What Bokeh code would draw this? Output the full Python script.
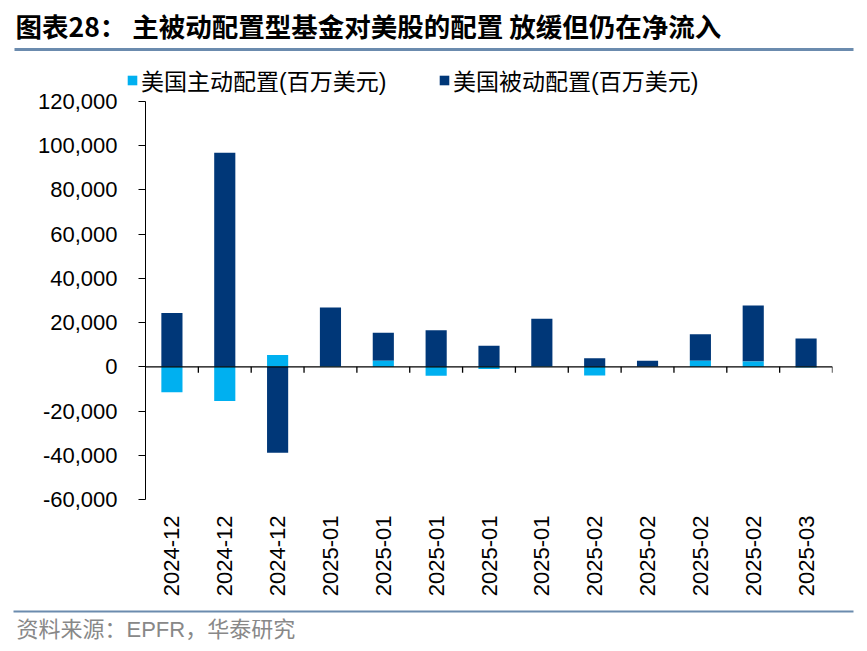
import numpy as np
from bokeh.plotting import figure
from bokeh.layouts import column
from bokeh.models import (Range1d, FixedTicker, NumeralTickFormatter, Span, Legend,
                          LegendItem, ColumnDataSource)
from bokeh.core.properties import value
from bokeh.embed import file_html
from bokeh.resources import INLINE

# ---- data ----
categories = ["2024-12", "2024-12", "2024-12", "2025-01", "2025-01", "2025-01", "2025-01",
              "2025-01", "2025-02", "2025-02", "2025-02", "2025-02", "2025-03"]
active = [-11500, -15500, 5400, 300, 2800, -4000, -1000, 300, -3900, 200, 2700, 2400, -300]
passive = [24400, 96800, -38900, 26500, 12600, 16600, 9500, 21500, 3900, 2600, 12000, 25300, 12800]
y_ticks = [-60000, -40000, -20000, 0, 20000, 40000, 60000, 80000, 100000, 120000]

title_text = "图表28： 主被动配置型基金对美股的配置 放缓但仍在净流入"
legend_active = "美国主动配置(百万美元)"
legend_passive = "美国被动配置(百万美元)"
source_text = "资料来源：EPFR，华泰研究"

C_ACTIVE = "#00B0F0"
C_PASSIVE = "#003778"
C_RULE = "#6B8BAE"
FONT = "Liberation Sans, Noto Sans CJK SC"
CJK = "Noto Sans CJK SC"

W = 867
HEAD_H, OVERLAP, MAIN_H, FOOT_H = 96, 8, 512, 50


def blank(height, **kw):
    f = figure(width=W, height=height, output_backend="svg", toolbar_location=None,
               x_range=Range1d(0, W), y_range=Range1d(height, 0),
               min_border=0, x_axis_location=None, y_axis_location=None,
               frame_align=False, **kw)
    f.outline_line_color = None
    f.grid.grid_line_color = None
    return f


# ---- header: title, rule, legend ----
head = blank(HEAD_H, margin=(0, 0, -OVERLAP, 0))
head.text(x=[15], y=[25], text=[title_text], text_font=value(CJK),
          text_font_size=value("26.5px"), text_font_style="bold",
          text_color="black", text_baseline="middle")
head.segment(x0=[14], x1=[853], y0=[49], y1=[49], line_color=C_RULE, line_width=3)
# legend swatches (kept outside the visible range; only their legend glyphs show)
ra = head.quad(left=[-50], right=[-40], top=[-50], bottom=[-40],
               fill_color=C_ACTIVE, line_color=None)
rp = head.quad(left=[-50], right=[-40], top=[-50], bottom=[-40],
               fill_color=C_PASSIVE, line_color=None)
for r, lab, x0 in [(ra, legend_active, 126), (rp, legend_passive, 438)]:
    lg = Legend(items=[LegendItem(label=lab, renderers=[r])], location=(x0, -1),
                orientation="horizontal", glyph_width=12, glyph_height=12,
                label_standoff=3, padding=0, margin=0, spacing=0,
                border_line_color=None, background_fill_alpha=0,
                label_text_font=FONT, label_text_font_size="23px",
                label_text_color="black")
    head.add_layout(lg)

# ---- main chart ----
n = len(categories)
xs = np.arange(n) + 0.5
a = np.array(active, dtype=float)
pv = np.array(passive, dtype=float)
p_bottom = np.where(np.sign(pv) == np.sign(a), a, 0.0)
p_top = p_bottom + pv
src = ColumnDataSource(dict(x=xs, a_top=a, a_bot=np.zeros(n), p_top=p_top, p_bot=p_bottom))

p = figure(width=W, height=MAIN_H, output_backend="svg", toolbar_location=None,
           x_range=Range1d(0, n), y_range=Range1d(-60000, 120000),
           min_border_left=145, min_border_right=35, min_border_top=13, min_border_bottom=101,
           frame_align=False)
p.outline_line_color = None
p.grid.grid_line_color = None
p.border_fill_alpha = 0
p.background_fill_alpha = 0

p.vbar(x="x", top="p_top", bottom="p_bot", width=0.4, source=src,
       fill_color=C_PASSIVE, line_color=None)
p.vbar(x="x", top="a_top", bottom="a_bot", width=0.4, source=src,
       fill_color=C_ACTIVE, line_color=None)

p.yaxis.ticker = FixedTicker(ticks=y_ticks)
p.yaxis.formatter = NumeralTickFormatter(format="0,0")
p.yaxis.major_label_text_font = "Liberation Sans"
p.yaxis.major_label_text_font_size = "22px"
p.yaxis.major_label_text_color = "black"
p.yaxis.axis_line_color = "black"
p.yaxis.major_tick_line_color = "black"
p.yaxis.major_tick_out = 7
p.yaxis.major_tick_in = 0
p.yaxis.minor_tick_line_color = None
p.yaxis.major_label_standoff = 21

p.xaxis.ticker = FixedTicker(ticks=list(xs))
p.xaxis.major_label_overrides = {float(x): c for x, c in zip(xs, categories)}
p.xaxis.major_label_orientation = np.pi / 2
p.xaxis.major_label_text_font = "Liberation Sans"
p.xaxis.major_label_text_font_size = "22px"
p.xaxis.major_label_text_color = "black"
p.xaxis.axis_line_color = None
p.xaxis.major_tick_line_color = None
p.xaxis.minor_tick_line_color = None
p.xaxis.major_tick_out = 0
p.xaxis.major_label_standoff = 16

p.add_layout(Span(location=0, dimension="width", line_color="black", line_width=1.3))
frame_h = 398.0
tick_len = 6 * (120000 - (-60000)) / frame_h
bounds = np.arange(1, n + 1)
p.segment(x0=bounds, x1=bounds, y0=np.zeros(len(bounds)), y1=-tick_len * np.ones(len(bounds)),
          line_color="black", line_width=1.3)

# ---- footer: rule and source ----
foot = blank(FOOT_H)
foot.segment(x0=[13], x1=[853], y0=[11], y1=[11], line_color=C_RULE, line_width=2)
foot.text(x=[16], y=[29], text=[source_text], text_font=value(FONT),
          text_font_size=value("22px"), text_color="#888888", text_baseline="middle")

layout = column(head, p, foot, spacing=0)
open("out.html", "w").write(file_html(layout, INLINE))
